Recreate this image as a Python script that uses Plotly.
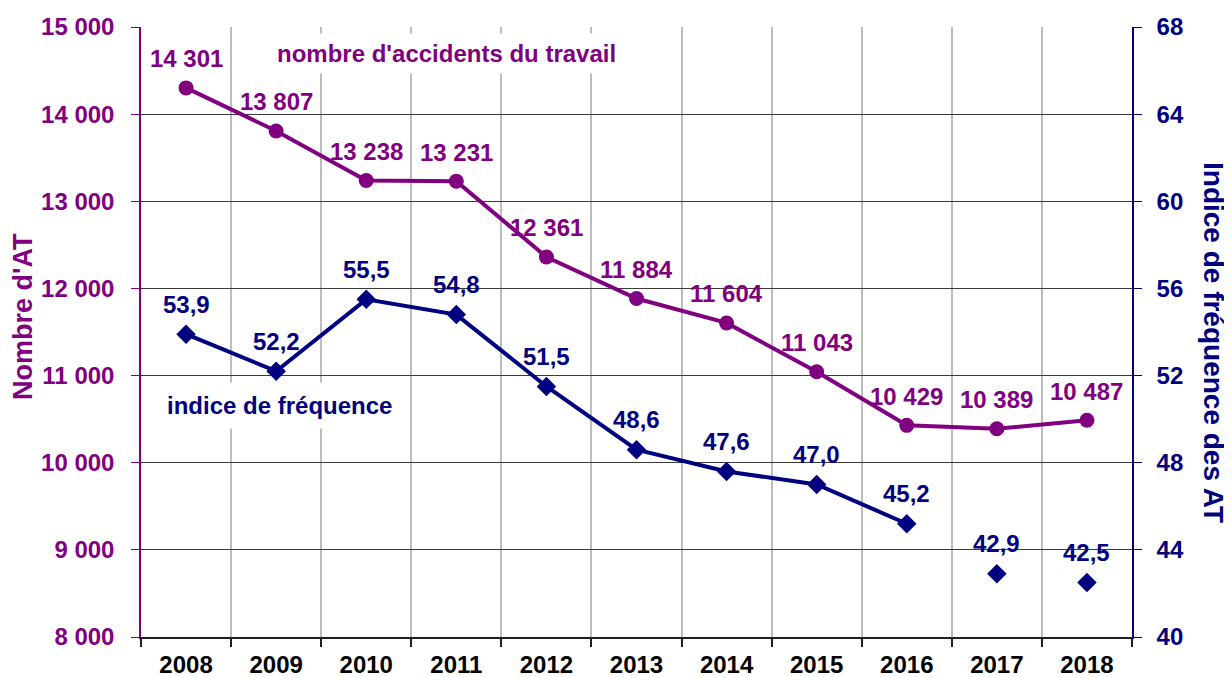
import plotly.graph_objects as go

years = [2008, 2009, 2010, 2011, 2012, 2013, 2014, 2015, 2016, 2017, 2018]
accidents = [14301, 13807, 13238, 13231, 12361, 11884, 11604, 11043, 10429, 10389, 10487]
indice = [53.9, 52.2, 55.5, 54.8, 51.5, 48.6, 47.6, 47.0, 45.2, 42.9, 42.5]
n_linked = 9  # indice points joined by a line (2008-2016)

left_ticks = [8000, 9000, 10000, 11000, 12000, 13000, 14000, 15000]
right_ticks = [40, 44, 48, 52, 56, 60, 64, 68]

PURPLE = "#800080"
NAVY = "#000080"
FONT = "Liberation Sans, Arial, sans-serif"

# the page body adds an 8 px margin; work in page pixels and compensate
OFF = 8
W, H = 1232 - OFF, 677 - OFF
PL, PR, PT, PB = 141, 1132, 27, 637  # plot area in page pixels
PW, PH = PR - PL, PB - PT


def px(x):
    return (x - PL) / PW


def py(y):
    return (PB - y) / PH


def fmt_int(v):
    return f"{v:,}".replace(",", " ")


def fmt_dec(v):
    return f"{v:.1f}".replace(".", ",")


fig = go.Figure()

fig.add_trace(go.Scatter(
    x=years, y=accidents, mode="lines+markers",
    line=dict(color=PURPLE, width=4),
    marker=dict(symbol="circle", size=15, color=PURPLE),
    yaxis="y", showlegend=False, hoverinfo="x+y",
))
fig.add_trace(go.Scatter(
    x=years[:n_linked], y=indice[:n_linked], mode="lines+markers",
    line=dict(color=NAVY, width=4),
    marker=dict(symbol="diamond", size=15, color=NAVY),
    yaxis="y2", showlegend=False, hoverinfo="x+y",
))
fig.add_trace(go.Scatter(
    x=years[n_linked:], y=indice[n_linked:], mode="markers",
    marker=dict(symbol="diamond", size=15, color=NAVY),
    yaxis="y2", showlegend=False, hoverinfo="x+y",
))

annotations = []
for x, v in zip(years, accidents):
    annotations.append(dict(
        x=x, y=v, xref="x", yref="y", text=fmt_int(v), showarrow=False,
        xanchor="center", yanchor="middle",
        yshift=29, font=dict(family=FONT, size=24, color=PURPLE, weight="bold"),
    ))
for x, v in zip(years, indice):
    annotations.append(dict(
        x=x, y=v, xref="x", yref="y2", text=fmt_dec(v), showarrow=False,
        xanchor="center", yanchor="middle",
        yshift=30, font=dict(family=FONT, size=24, color=NAVY, weight="bold"),
    ))

annotations += [
    dict(x=px(446), y=py(53), xref="paper", yref="paper", text="nombre d'accidents du travail",
         showarrow=False, bgcolor="white", borderpad=6, xanchor="center", yanchor="middle",
         font=dict(family=FONT, size=24, color=PURPLE, weight="bold")),
    dict(x=px(279), y=py(405), xref="paper", yref="paper", text="indice de fréquence",
         showarrow=False, bgcolor="white", borderpad=9, xanchor="center", yanchor="middle",
         font=dict(family=FONT, size=24, color=NAVY, weight="bold")),
    dict(x=px(23), y=py(317), xref="paper", yref="paper", text="Nombre d'AT",
         showarrow=False, textangle=-90, xanchor="center", yanchor="middle",
         font=dict(family=FONT, size=27, color=PURPLE, weight="bold")),
    dict(x=px(1214), y=py(342), xref="paper", yref="paper", text="Indice de fréquence des AT",
         showarrow=False, textangle=90, xanchor="center", yanchor="middle",
         font=dict(family=FONT, size=28, color=NAVY, weight="bold")),
]

fig.update_layout(
    width=W, height=H,
    margin=dict(l=PL - OFF, r=W - (PR - OFF), t=PT - OFF, b=H - (PB - OFF), autoexpand=False),
    paper_bgcolor="white", plot_bgcolor="white",
    font=dict(family=FONT),
    annotations=annotations,
    xaxis=dict(
        range=[2007.5, 2018.5], automargin=False,
        tickvals=years, ticktext=[str(y) for y in years],
        tickfont=dict(family=FONT, size=24, color="black", weight="bold"),
        ticks="", showgrid=False, zeroline=False,
        showline=True, linecolor="#202020", linewidth=1.5,
        ticklabelstandoff=5,
        minor=dict(tick0=2007.5, dtick=1, showgrid=True, gridcolor="#bdbdbd", gridwidth=1.5,
                   ticks="outside", ticklen=8, tickcolor="#202020", tickwidth=1.5),
    ),
    yaxis=dict(
        range=[8000, 15000], automargin=False,
        tickvals=left_ticks, ticktext=[fmt_int(v) for v in left_ticks],
        tickfont=dict(family=FONT, size=24, color=PURPLE, weight="bold"),
        ticks="outside", ticklen=8, tickcolor=PURPLE, tickwidth=1,
        showline=True, linecolor=PURPLE, linewidth=1.5,
        showgrid=True, gridcolor="#3a3a3a", gridwidth=1, zeroline=False,
        ticklabelstandoff=12,
    ),
    yaxis2=dict(
        range=[40, 68], overlaying="y", side="right", automargin=False,
        tickvals=right_ticks, ticktext=[str(v) for v in right_ticks],
        tickfont=dict(family=FONT, size=24, color=NAVY, weight="bold"),
        ticks="outside", ticklen=8, tickcolor=NAVY, tickwidth=1,
        showline=True, linecolor=NAVY, linewidth=1.5,
        showgrid=False, zeroline=False,
        ticklabelstandoff=10,
    ),
)

fig.write_html("out.html")
